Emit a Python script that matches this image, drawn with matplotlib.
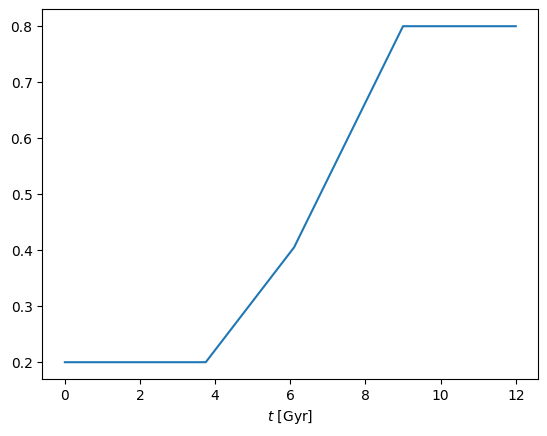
import matplotlib
matplotlib.use("Agg")
import matplotlib.pyplot as plt

t = [0.0, 3.75, 6.1, 9.0, 12.0]
values = [0.2, 0.2, 0.405, 0.8, 0.8]

fig = plt.figure(figsize=(5.47, 4.36), dpi=100)
ax = fig.add_axes([42.3 / 547, (436 - 379) / 436, 496 / 547, 369.6 / 436])
ax.plot(t, values)
ax.set_xlabel(r"$t$ [Gyr]")
fig.savefig("out.png", dpi=100)
